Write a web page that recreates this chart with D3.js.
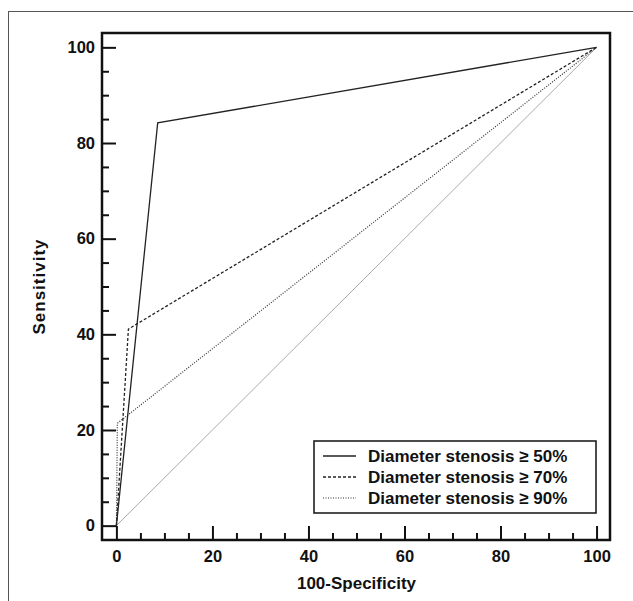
<!DOCTYPE html>
<html>
<head>
<meta charset="utf-8">
<script src="https://cdn.jsdelivr.net/npm/d3@7"></script>
<style>
  body { margin: 0; background: #fff; }
  svg { display: block; font-family: "Liberation Sans", Arial, sans-serif; font-weight: bold; }
</style>
</head>
<body>
<svg id="chart"></svg>
<script>
var width = 633;
var height = 601;

// ROC points (100-specificity, sensitivity)
var fpr50 = [0, 8.6, 100];
var sens50 = [0, 84.2, 100];
var fpr70 = [0, 2.5, 100];
var sens70 = [0, 41.1, 100];
var fpr90 = [0, 0.2, 100];
var sens90 = [0, 21.4, 100];
var diagX = [0, 100];
var diagY = [0, 100];

var legendLabels = ["Diameter stenosis \u2265 50%", "Diameter stenosis \u2265 70%", "Diameter stenosis \u2265 90%"];
var majorTicks = [0, 20, 40, 60, 80, 100];
var minorTicks = [5, 10, 15, 25, 30, 35, 45, 50, 55, 65, 70, 75, 85, 90, 95];

var box = {left: 102, right: 610, top: 33, bottom: 540};

var x = d3.scaleLinear().domain([-3, 102.8]).range([box.left, box.right]);
var y = d3.scaleLinear().domain([-3, 103]).range([box.bottom, box.top]);

var svg = d3.select("#chart")
    .attr("width", width)
    .attr("height", height);

svg.append("rect").attr("width", width).attr("height", height).attr("fill", "#fff");

// outer frame
svg.append("rect")
    .attr("x", 8.5).attr("y", 11.5)
    .attr("width", 640).attr("height", 620)
    .attr("fill", "none").attr("stroke", "#555").attr("stroke-width", 1);

var line = d3.line()
    .x(function(d) { return x(d[0]); })
    .y(function(d) { return y(d[1]); });

function pts(xs, ys) { return xs.map(function(v, i) { return [v, ys[i]]; }); }

var series = [
    {xs: diagX, ys: diagY, color: "#aaa", w: 1, dash: null},
    {xs: fpr90, ys: sens90, color: "#333", w: 1.2, dash: "1,1.5"},
    {xs: fpr70, ys: sens70, color: "#222", w: 1.3, dash: "3,2"},
    {xs: fpr50, ys: sens50, color: "#222", w: 1.3, dash: null}
];

svg.selectAll("path.roc")
    .data(series)
    .enter()
    .append("path")
    .attr("class", "roc")
    .attr("d", function(d) { return line(pts(d.xs, d.ys)); })
    .attr("fill", "none")
    .attr("stroke", function(d) { return d.color; })
    .attr("stroke-width", function(d) { return d.w; })
    .attr("stroke-dasharray", function(d) { return d.dash; });

// axes
var yMajor = svg.append("g").attr("transform", "translate(" + box.left + ",0)")
    .call(d3.axisLeft(y).tickValues(majorTicks).tickSize(-14).tickPadding(7));
var yMinor = svg.append("g").attr("transform", "translate(" + box.left + ",0)")
    .call(d3.axisLeft(y).tickValues(minorTicks).tickSize(-7).tickFormat(""));
var xMajor = svg.append("g").attr("transform", "translate(0," + box.bottom + ")")
    .call(d3.axisBottom(x).tickValues(majorTicks).tickSize(-14).tickPadding(10));
var xMinor = svg.append("g").attr("transform", "translate(0," + box.bottom + ")")
    .call(d3.axisBottom(x).tickValues(minorTicks).tickSize(-7).tickFormat(""));

[yMajor, yMinor, xMajor, xMinor].forEach(function(g) {
    g.select(".domain").remove();
    g.selectAll("line").attr("stroke", "#111").attr("stroke-width", 2);
    g.selectAll("text").attr("fill", "#111").style("font-size", "16.5px").style("font-weight", "bold")
        .style("font-family", "'Liberation Sans', Arial, sans-serif");
});

// plot frame
svg.append("rect")
    .attr("x", box.left).attr("y", box.top)
    .attr("width", box.right - box.left).attr("height", box.bottom - box.top)
    .attr("fill", "none").attr("stroke", "#111").attr("stroke-width", 2.5);

// axis titles
svg.append("text")
    .attr("x", (x(0) + x(100)) / 2).attr("y", 589)
    .attr("text-anchor", "middle")
    .style("font-size", "17px").attr("fill", "#111")
    .text("100-Specificity");

svg.append("text")
    .attr("transform", "translate(45," + ((y(0) + y(100)) / 2) + ") rotate(-90)")
    .attr("text-anchor", "middle")
    .style("font-size", "17px").style("letter-spacing", "1px").attr("fill", "#111")
    .text("Sensitivity");

// legend
var legend = svg.append("g");
legend.append("rect")
    .attr("x", 314).attr("y", 441)
    .attr("width", 282).attr("height", 72)
    .attr("fill", "#fff").attr("stroke", "#111").attr("stroke-width", 1.5);

var legRows = legend.selectAll("g.row")
    .data(series.slice(1).reverse())
    .enter()
    .append("g")
    .attr("class", "row")
    .attr("transform", function(d, i) { return "translate(0," + (456 + i * 21) + ")"; });

legRows.append("line")
    .attr("x1", 323).attr("x2", 356)
    .attr("stroke", function(d) { return d.color; })
    .attr("stroke-width", function(d) { return d.w; })
    .attr("stroke-dasharray", function(d) { return d.dash; });

legRows.append("text")
    .attr("x", 368).attr("dy", "0.36em")
    .style("font-size", "17px").attr("fill", "#111")
    .text(function(d, i) { return legendLabels[i]; });
</script>
</body>
</html>
